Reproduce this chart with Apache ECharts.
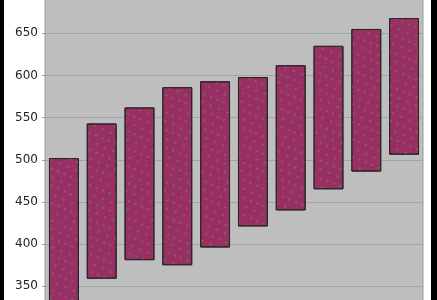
<!DOCTYPE html>
<html><head><meta charset="utf-8">
<script src="https://cdn.jsdelivr.net/npm/echarts@6/dist/echarts.min.js"></script>
<style>
html,body{margin:0;padding:0;background:#000;width:437px;height:300px;overflow:hidden;position:relative}
#c{position:absolute;left:4px;top:-9px;width:427px;height:338px;background:#fff}
</style></head><body>
<div id="c"></div>
<script>
const categories = ['1','2','3','4','5','6','7','8','9','10'];
const lowValues  = [325, 359, 381, 375, 396, 421, 440, 465, 486, 506];
const highValues = [502, 543, 562, 586, 593, 598, 612, 635, 655, 668];
const yTicks = [300, 700, 50];

const chart = echarts.init(document.getElementById('c'), null, {renderer:'canvas'});
chart.setOption({
  animation:false,
  backgroundColor:'#ffffff',
  aria:{enabled:true, decal:{show:true}},
  grid:{left:41, right:8, top:0, bottom:0.5, show:true, backgroundColor:'#bebebe', borderColor:'#999999', borderWidth:1, containLabel:false, outerBoundsMode:'none'},
  xAxis:{type:'category', data:categories, axisLabel:{show:false}, axisTick:{show:false}, axisLine:{show:false}},
  yAxis:{type:'value', min:yTicks[0], max:yTicks[1], interval:yTicks[2],
    axisLine:{show:false},
    axisTick:{show:true, length:3, lineStyle:{color:'#999'}},
    axisLabel:{color:'#222', fontFamily:'DejaVu Sans', fontSize:12, margin:7},
    splitLine:{lineStyle:{color:'#a3a3a3', width:1}}},
  series:[
    {type:'bar', stack:'r', data:lowValues, itemStyle:{color:'rgba(0,0,0,0)', decal:{color:'rgba(0,0,0,0)', backgroundColor:'rgba(0,0,0,0)'}}, barCategoryGap:'21%', silent:true},
    {type:'bar', stack:'r', data:highValues.map((h,i)=>h-lowValues[i]),
     itemStyle:{color:'#9a2f64', borderColor:'#262626', borderWidth:1,
       decal:{symbol:'rect', symbolSize:1, color:'rgba(110,110,110,0.85)', dashArrayX:[[1.5,7],[1.5,5]], dashArrayY:[1.5,6], rotation:0.4}},
     barCategoryGap:'21%'}
  ]
});
</script>
</body></html>
